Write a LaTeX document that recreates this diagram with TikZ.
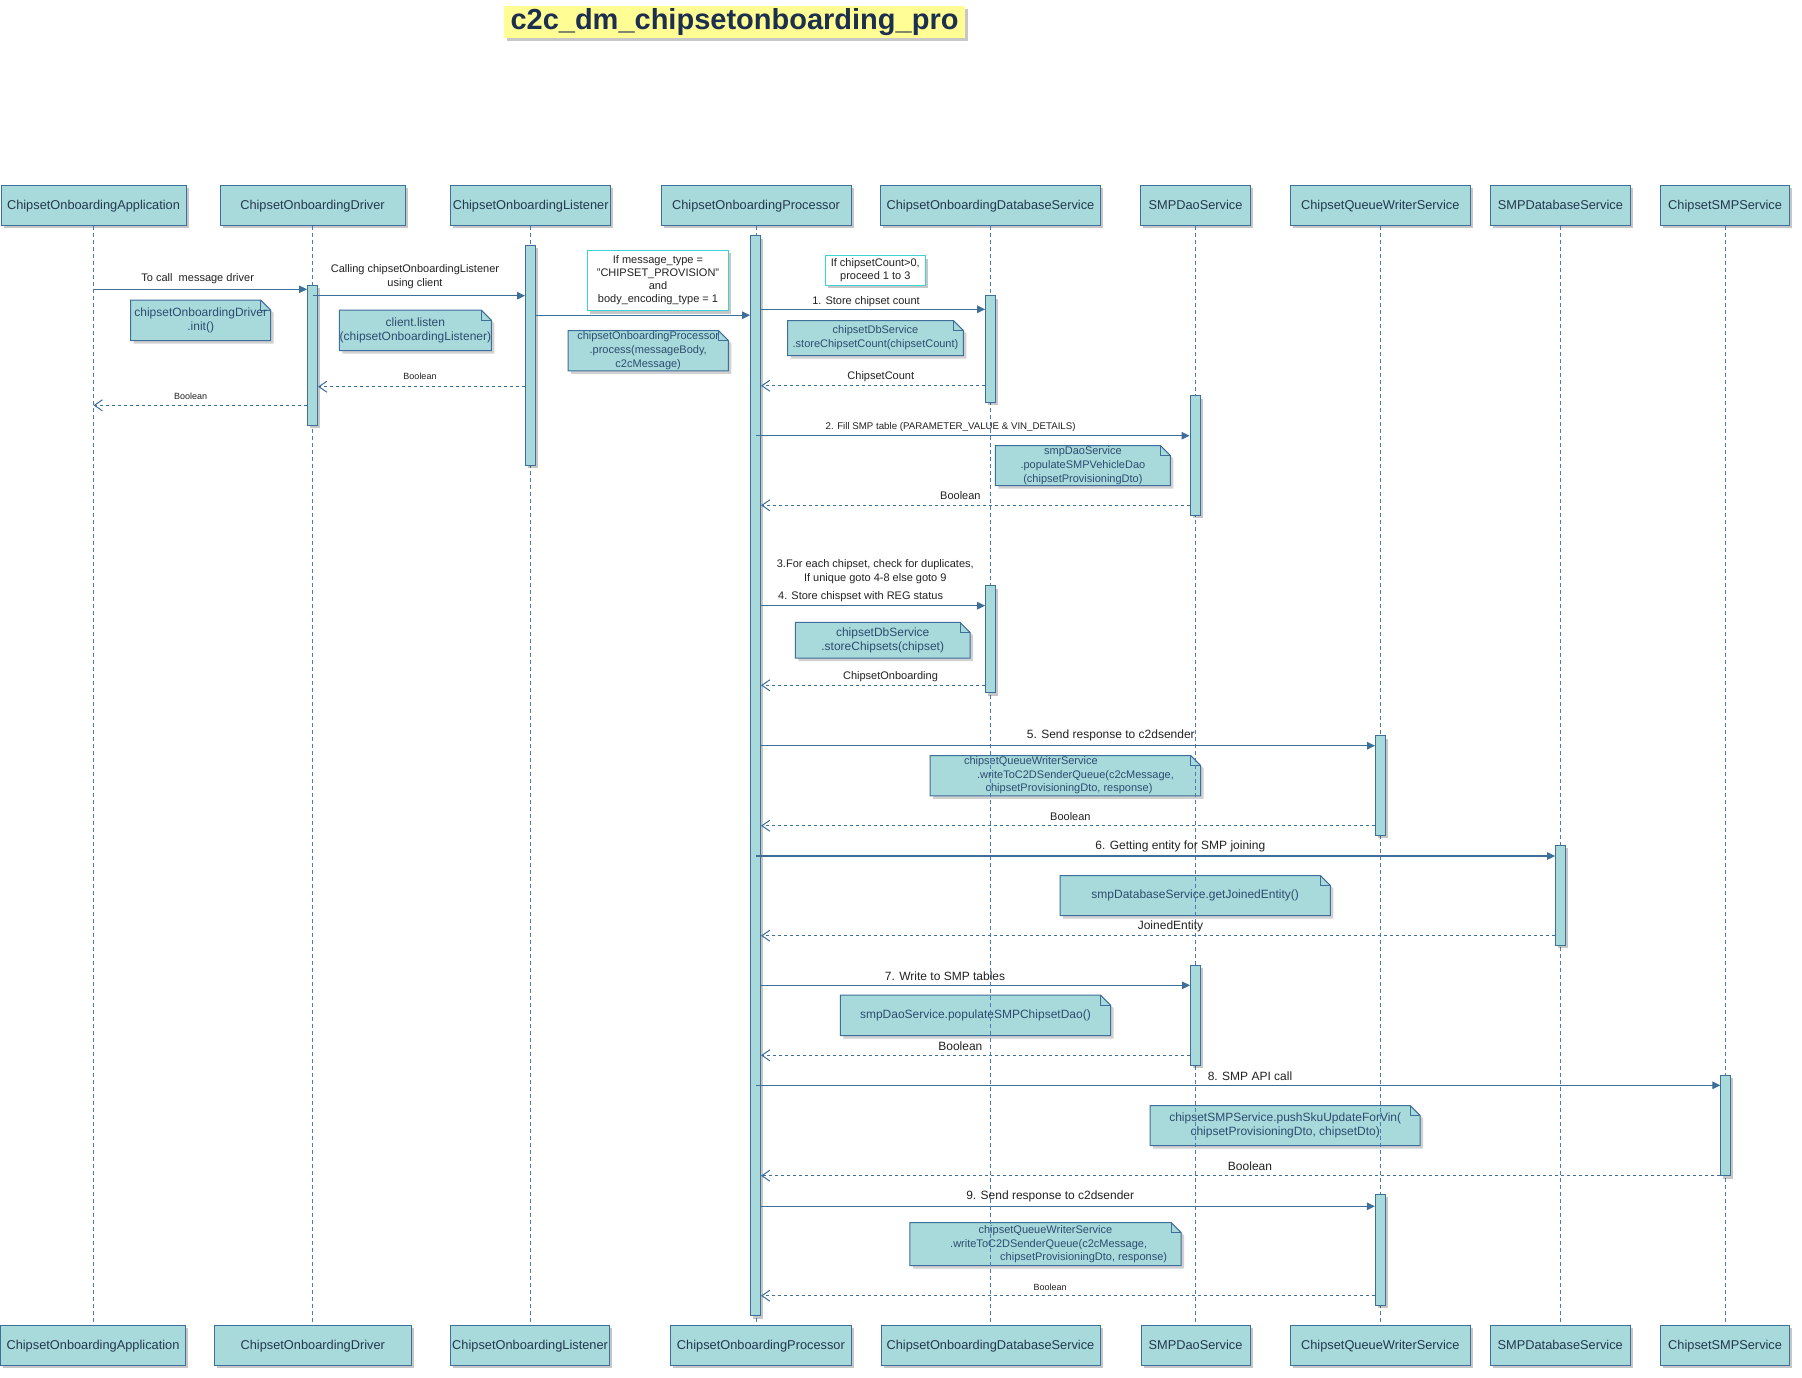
\documentclass[tikz,border=0pt]{standalone}
\usepackage{fontspec}
\setmainfont{Liberation Sans}
\usetikzlibrary{arrows.meta,shadows,calc}
\definecolor{tealc}{HTML}{A9DADB}
\definecolor{bordc}{HTML}{3E6E9A}
\definecolor{lifec}{HTML}{4A7DB0}
\definecolor{arrowc}{HTML}{3E6E9A}
\definecolor{hdrtext}{HTML}{22384F}
\definecolor{notetextc}{HTML}{2B4C70}
\definecolor{lblc}{HTML}{222222}
\definecolor{cyanc}{HTML}{3CD3D3}
\definecolor{titlebg}{HTML}{FFFD94}
\definecolor{titletext}{HTML}{1C2F4E}
\pgfdeclarelayer{bg}
\pgfsetlayers{bg,main}
\newcommand{\fsz}[2]{\fontsize{#1}{#2}\selectfont}
\newcommand{\notebg}[1]{%
 \begin{pgfonlayer}{bg}
  \fill[black,opacity=0.18] ($(#1.north west)+(3,3)$) -- ($(#1.north east)+(-7,3)$) -- ($(#1.north east)+(3,13)$) -- ($(#1.south east)+(3,3)$) -- ($(#1.south west)+(3,3)$) -- cycle;
  \filldraw[fill=tealc,draw=bordc,line width=1pt] (#1.north west) -- ($(#1.north east)+(-10,0)$) -- ($(#1.north east)+(0,10)$) -- (#1.south east) -- (#1.south west) -- cycle;
  \draw[bordc,line width=0.8pt] ($(#1.north east)+(-10,0)$) -- ($(#1.north east)+(-10,10)$) -- ($(#1.north east)+(0,10)$);
 \end{pgfonlayer}}
\begin{document}
\begin{tikzpicture}[x=1pt,y=-1pt,
 shadowed/.style={drop shadow={shadow xshift=2.5pt,shadow yshift=-3pt,opacity=0.22,fill=black}},
 hdr/.style={draw=bordc,fill=tealc,line width=1pt,minimum height=40,inner sep=0pt,text depth=0pt,font=\fsz{12.8}{15},text=hdrtext,shadowed},
 actbar/.style={draw=bordc,fill=tealc,line width=1pt,minimum width=10,inner sep=0pt,shadowed},
 lifeline/.style={draw=lifec,line width=0.9pt,dash pattern=on 4pt off 3pt},
 msg/.style={draw=arrowc,line width=1.1pt,-{Triangle[length=8pt,width=7.5pt]}},
 ret/.style={draw=arrowc,line width=1pt,dash pattern=on 3pt off 3pt,-{Straight Barb[length=8pt,width=11pt]}},
 lbl/.style={inner sep=0pt,text=lblc,align=center},
 notebox/.style={inner sep=0pt,text=notetextc,align=center},
 notetxt/.style={inner sep=0pt,text=notetextc},
 cbox/.style={draw=cyanc,line width=1.2pt,fill=white,inner sep=0pt,align=center,text=lblc,shadowed},
 titlebox/.style={fill=titlebg,minimum width=461,minimum height=32,inner sep=0pt,text=titletext,font=\bfseries\fsz{29}{34},shadowed}
]
\begin{pgfonlayer}{bg}
\fill[white] (0,0) rectangle (1802,1377);
\end{pgfonlayer}
\useasboundingbox (0,0) rectangle (1802,1377);

% title
\node[titlebox] (title) at (734.5,21.8) {c2c\_dm\_chipsetonboarding\_pro};

% header boxes
\node[hdr,minimum width=185] (hApp) at (93.5,205) {ChipsetOnboardingApplication};
\node[hdr,minimum width=185] (hDrv) at (312.5,205) {ChipsetOnboardingDriver};
\node[hdr,minimum width=160.5] (hLis) at (530.7,205) {ChipsetOnboardingListener};
\node[hdr,minimum width=190] (hProc) at (756,205) {ChipsetOnboardingProcessor};
\node[hdr,minimum width=220] (hDB) at (990.5,205) {ChipsetOnboardingDatabaseService};
\node[hdr,minimum width=110] (hDao) at (1195.5,205) {SMPDaoService};
\node[hdr,minimum width=180.5] (hQW) at (1380.3,205) {ChipsetQueueWriterService};
\node[hdr,minimum width=140] (hSDB) at (1560.4,205) {SMPDatabaseService};
\node[hdr,minimum width=129.4] (hCS) at (1725.1,205) {ChipsetSMPService};

% bottom boxes
\node[hdr,minimum width=185] (bApp) at (93,1345) {ChipsetOnboardingApplication};
\node[hdr,minimum width=197.6] (bDrv) at (312.8,1345) {ChipsetOnboardingDriver};
\node[hdr,minimum width=159] (bLis) at (530.1,1345) {ChipsetOnboardingListener};
\node[hdr,minimum width=180.8] (bProc) at (760.9,1345) {ChipsetOnboardingProcessor};
\node[hdr,minimum width=219] (bDB) at (990.5,1345) {ChipsetOnboardingDatabaseService};
\node[hdr,minimum width=109] (bDao) at (1195.5,1345) {SMPDaoService};
\node[hdr,minimum width=179.4] (bQW) at (1380.3,1345) {ChipsetQueueWriterService};
\node[hdr,minimum width=139.6] (bSDB) at (1560.2,1345) {SMPDatabaseService};
\node[hdr,minimum width=129.4] (bCS) at (1725.1,1345) {ChipsetSMPService};

% notes
\node[notebox,minimum width=139.6,minimum height=40,font=\fsz{12}{14}] (nDrv) at (200.7,320.3) {chipsetOnboardingDriver\\.init()};
\notebg{nDrv}
\node[notebox,minimum width=150,minimum height=40,font=\fsz{12}{13.7}] (nLis) at (415.4,330.3) {client.listen\\(chipsetOnboardingListener)};
\notebg{nLis}
\node[notebox,minimum width=160,minimum height=40,font=\fsz{11}{14.2}] (nProc) at (648.2,350.7) {chipsetOnboardingProcessor\\.process(messageBody,\\c2cMessage)};
\notebg{nProc}
\node[notebox,minimum width=175.5,minimum height=34.6,font=\fsz{11}{14}] (nDB1) at (875.5,338) {chipsetDbService\\.storeChipsetCount(chipsetCount)};
\notebg{nDB1}
\node[notebox,minimum width=174.7,minimum height=39.6,font=\fsz{11}{14}] (nDao1) at (1082.9,465.5) {smpDaoService\\.populateSMPVehicleDao\\(chipsetProvisioningDto)};
\notebg{nDao1}
\node[notebox,minimum width=174.3,minimum height=35.3,font=\fsz{12}{13.7}] (nDB2) at (882.7,640.3) {chipsetDbService\\.storeChipsets(chipset)};
\notebg{nDB2}
\node[notebox,minimum width=270.1,minimum height=40] (nQW1) at (1065.45,775.7) {};
\notebg{nQW1}
\node[notetxt,align=left,anchor=west,font=\fsz{11}{13.2}] (tQW1) at (963.8,775.2) {chipsetQueueWriterService\\\hspace*{13pt}.writeToC2DSenderQueue(c2cMessage,\\\hspace*{21.6pt}chipsetProvisioningDto, response)};
\node[notebox,minimum width=269.8,minimum height=39.6,font=\fsz{12}{14}] (nSDB) at (1195.2,895.5) {smpDatabaseService.getJoinedEntity()};
\notebg{nSDB}
\node[notebox,minimum width=269.8,minimum height=40,font=\fsz{12}{14}] (nDao2) at (975.4,1015.3) {smpDaoService.populateSMPChipsetDao()};
\notebg{nDao2}
\node[notebox,minimum width=269.6,minimum height=39.6,font=\fsz{12}{14}] (nCS) at (1285.2,1125.5) {chipsetSMPService.pushSkuUpdateForVin(\\chipsetProvisioningDto, chipsetDto)};
\notebg{nCS}
\node[notebox,minimum width=270.9,minimum height=42.6] (nQW2) at (1045.45,1244) {};
\notebg{nQW2}
\node[notetxt,align=left,anchor=west,font=\fsz{11}{13.2}] (tQW2) at (950,1244.3) {\hspace*{28.4pt}chipsetQueueWriterService\\.writeToC2DSenderQueue(c2cMessage,\\\hspace*{50pt}chipsetProvisioningDto, response)};

% condition boxes
\node[cbox,minimum width=140.4,minimum height=60.4,font=\fsz{11}{13}] (cMsg) at (658,280.5) {If message\_type =\\"CHIPSET\_PROVISION"\\and\\body\_encoding\_type = 1};
\node[cbox,minimum width=100,minimum height=29.6,font=\fsz{11}{13}] (cCnt) at (875.3,270.5) {If chipsetCount>0,\\proceed 1 to 3};

% lifelines
\foreach \h/\b in {hApp/bApp,hDrv/bDrv,hLis/bLis,hProc/bProc,hDB/bDB,hDao/bDao,hQW/bQW,hSDB/bSDB,hCS/bCS}
  \draw[lifeline] (\h.south) -- (\h.south |- \b.north);

% activation bars
\node[actbar,minimum height=139.7] (aDrv) at (312.5,355.2) {};
\node[actbar,minimum height=219.7] (aLis) at (530.5,355.2) {};
\node[actbar,minimum height=1079.8] (aProc) at (755.5,775.6) {};
\node[actbar,minimum height=106.6] (aDB1) at (990.6,349) {};
\node[actbar,minimum height=119.5] (aDao1) at (1195,455.3) {};
\node[actbar,minimum height=107.3] (aDB2) at (990.6,639.3) {};
\node[actbar,minimum height=99.6] (aQW1) at (1380.5,785.5) {};
\node[actbar,minimum height=100] (aSDB) at (1560.6,895.3) {};
\node[actbar,minimum height=100] (aDao2) at (1195.5,1015.3) {};
\node[actbar,minimum height=100.4] (aCS) at (1725.8,1125.5) {};
\node[actbar,minimum height=111] (aQW2) at (1380.4,1249.8) {};

% message rows
\coordinate (y1) at (0,289.3);
\coordinate (y2) at (0,295.7);
\coordinate (y3) at (0,315.2);
\coordinate (y4) at (0,386.7);
\coordinate (y5) at (0,405.3);
\coordinate (y6) at (0,309.3);
\coordinate (y7) at (0,385.7);
\coordinate (y8) at (0,435.7);
\coordinate (y9) at (0,505.3);
\coordinate (y10) at (0,605.7);
\coordinate (y11) at (0,685.3);
\coordinate (y12) at (0,745.7);
\coordinate (y13) at (0,825.7);
\coordinate (y14) at (0,856);
\coordinate (y15) at (0,935.7);
\coordinate (y16) at (0,985.3);
\coordinate (y17) at (0,1055.3);
\coordinate (y18) at (0,1085.3);
\coordinate (y19) at (0,1175.7);
\coordinate (y20) at (0,1206.3);
\coordinate (y21) at (0,1295.7);

\draw[msg] (hApp.south |- y1) -- (aDrv.west |- y1);
\node[lbl,font=\fsz{11}{13}] (l1) at (197.7,279) {To call~~message driver};
\draw[msg] (aDrv.center |- y2) -- (aLis.west |- y2);
\node[lbl,font=\fsz{11}{13.3}] (l2) at (415,276.7) {Calling chipsetOnboardingListener\\using client};
\draw[msg] (aLis.east |- y3) -- (aProc.west |- y3);
\draw[ret] (aLis.west |- y4) -- (aDrv.east |- y4);
\node[lbl,font=\fsz{9}{11}] (l4) at (420,376.7) {Boolean};
\draw[ret] (aDrv.west |- y5) -- (hApp.south |- y5);
\node[lbl,font=\fsz{9}{11}] (l5) at (190.6,396.7) {Boolean};

\draw[msg] (aProc.east |- y6) -- (aDB1.west |- y6);
\node[lbl,font=\fsz{11}{13}] (l6) at (866,301.3) {1. Store chipset count};
\draw[ret] (aDB1.west |- y7) -- (aProc.east |- y7);
\node[lbl,font=\fsz{11}{13}] (l7) at (880.8,376.3) {ChipsetCount};
\draw[msg] (aProc.center |- y8) -- (aDao1.west |- y8);
\node[lbl,font=\fsz{9.7}{12}] (l8) at (950.6,426.7) {2. Fill SMP table (PARAMETER\_VALUE \& VIN\_DETAILS)};
\draw[ret] (aDao1.west |- y9) -- (aProc.east |- y9);
\node[lbl,font=\fsz{11}{13}] (l9) at (960.4,496) {Boolean};

\node[lbl,font=\fsz{11}{14}] (t3) at (875.3,571.3) {3.For each chipset, check for duplicates,\\If unique goto 4-8 else goto 9};
\draw[msg] (aProc.east |- y10) -- (aDB2.west |- y10);
\node[lbl,font=\fsz{11}{13}] (l10) at (860.6,596.3) {4. Store chispset with REG status};
\draw[ret] (aDB2.west |- y11) -- (aProc.east |- y11);
\node[lbl,font=\fsz{11}{13}] (l11) at (890.5,676.3) {ChipsetOnboarding};

\draw[msg] (aProc.east |- y12) -- (aQW1.west |- y12);
\node[lbl,font=\fsz{12}{14}] (l12) at (1110.8,735.7) {5. Send response to c2dsender};
\draw[ret] (aQW1.west |- y13) -- (aProc.east |- y13);
\node[lbl,font=\fsz{11}{13}] (l13) at (1070.4,816.3) {Boolean};

\draw[msg] (aProc.center |- y14) -- (aSDB.west |- y14);
\node[lbl,font=\fsz{12}{14}] (l14) at (1180.3,846) {6. Getting entity for SMP joining};
\draw[ret] (aSDB.west |- y15) -- (aProc.east |- y15);
\node[lbl,font=\fsz{12}{14}] (l15) at (1170.5,926.3) {JoinedEntity};

\draw[msg] (aProc.east |- y16) -- (aDao2.west |- y16);
\node[lbl,font=\fsz{12}{14}] (l16) at (945,976) {7. Write to SMP tables};
\draw[ret] (aDao2.west |- y17) -- (aProc.east |- y17);
\node[lbl,font=\fsz{12}{14}] (l17) at (960.4,1046) {Boolean};

\draw[msg] (aProc.center |- y18) -- (aCS.west |- y18);
\node[lbl,font=\fsz{12}{14}] (l18) at (1250,1075.7) {8. SMP API call};
\draw[ret] (aCS.west |- y19) -- (aProc.east |- y19);
\node[lbl,font=\fsz{12}{14}] (l19) at (1250,1166) {Boolean};

\draw[msg] (aProc.east |- y20) -- (aQW2.west |- y20);
\node[lbl,font=\fsz{12}{14}] (l20) at (1050.2,1196) {9. Send response to c2dsender};
\draw[ret] (aQW2.west |- y21) -- (aProc.east |- y21);
\node[lbl,font=\fsz{9}{11}] (l21) at (1050.2,1287) {Boolean};
\end{tikzpicture}
\end{document}
